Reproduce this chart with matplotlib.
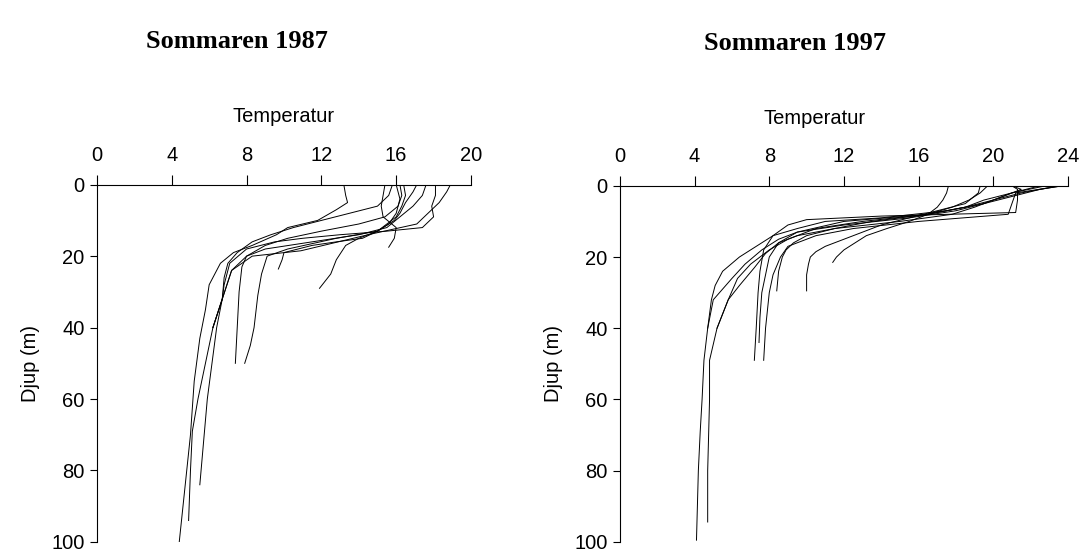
#!/usr/bin/env python
# -*- coding: utf-8 -*-

import matplotlib
matplotlib.use('Agg')
import matplotlib.pyplot as plt

# temperature profiles, (depth in m, temperature in C)
# summer 1987
depth_87_a = [0, 3, 5, 7, 10, 12, 14, 17, 19, 22, 28, 35, 43, 55, 70, 85, 100]
temp_87_a = [13.2, 13.3, 13.4, 12.8, 11.8, 10.2, 9.6, 8.3, 7.3, 6.6, 6.0, 5.8, 5.5, 5.2, 5.0, 4.7, 4.4]
depth_87_b = [0, 2, 5, 8, 11, 14, 18.5, 20, 24, 32, 40, 48, 60, 72, 84]
temp_87_b = [18.9, 18.7, 18.3, 17.7, 17.1, 14.5, 10.9, 8.3, 7.2, 6.7, 6.4, 6.2, 5.9, 5.7, 5.5]
depth_87_c = [0, 3, 6, 9, 11, 13, 15, 17, 20, 24, 32, 40, 50, 60, 69, 80, 94]
temp_87_c = [16.2, 16.3, 16.1, 15.4, 14.0, 12.0, 10.2, 9.0, 8.0, 7.2, 6.7, 6.2, 5.8, 5.4, 5.1, 5.0, 4.9]
depth_87_d = [0, 3, 6, 9, 12, 14, 16, 18, 20, 23, 30, 40, 50]
temp_87_d = [17.6, 17.4, 16.9, 16.2, 15.5, 14.0, 11.5, 9.0, 8.0, 7.75, 7.6, 7.5, 7.4]
depth_87_e = [0, 2, 5, 8, 10, 13, 15, 18, 20, 25, 31, 40, 45, 50]
temp_87_e = [17.1, 16.9, 16.5, 16.2, 15.9, 15.0, 12.8, 10.2, 9.1, 8.8, 8.6, 8.4, 8.2, 7.9]
depth_87_f = [0, 4, 8, 11, 13, 15, 17, 21, 25, 29]
temp_87_f = [16.0, 16.2, 16.0, 15.6, 15.0, 14.0, 13.3, 12.8, 12.5, 11.9]
depth_87_g = [0, 3, 6, 9, 12, 15, 17.5]
temp_87_g = [15.4, 15.3, 15.2, 15.3, 16.0, 15.9, 15.6]
depth_87_h = [0, 3, 6, 9, 11, 13, 15, 16, 17, 19, 21, 23.6]
temp_87_h = [16.4, 16.5, 16.3, 16.0, 15.5, 15.0, 14.2, 12.8, 11.5, 10.0, 9.9, 9.7]
depth_87_i = [0, 3, 6, 9, 12, 13, 14, 15, 16, 18, 22, 28, 32, 40]
temp_87_i = [18.1, 18.1, 17.9, 18.0, 17.4, 15.5, 13.0, 11.0, 9.5, 8.0, 7.1, 6.8, 6.7, 6.2]
depth_87_j = [0, 3, 6, 8, 10, 12, 14, 16, 19, 22, 26, 32, 40]
temp_87_j = [15.8, 15.6, 15.0, 13.5, 12.0, 10.5, 9.3, 8.3, 7.5, 7.0, 6.8, 6.7, 6.2]

# summer 1997
depth_97_a = [0, 1, 3, 5, 7, 9, 10, 12, 14, 17, 20, 24, 28, 32, 40, 49, 60, 69, 80, 99.5]
temp_97_a = [23.7, 22.5, 21.0, 19.5, 17.5, 14.0, 11.0, 9.5, 8.2, 7.3, 6.4, 5.5, 5.1, 4.9, 4.7, 4.5, 4.4, 4.3, 4.2, 4.1]
depth_97_b = [0, 2, 4, 6, 8, 10, 12, 15, 18, 22, 26, 32, 40, 49, 60, 70, 80, 94.4]
temp_97_b = [23.5, 21.5, 20.0, 18.5, 16.5, 13.0, 10.5, 9.0, 8.0, 7.0, 6.3, 5.8, 5.2, 4.8, 4.8, 4.75, 4.7, 4.7]
depth_97_c = [0, 1, 4, 7.5, 8.5, 9.5, 11, 14, 18, 24, 30, 40, 49]
temp_97_c = [21.0, 21.3, 21.3, 21.2, 14.0, 10.0, 9.0, 8.2, 7.7, 7.5, 7.4, 7.3, 7.2]
depth_97_d = [0, 2, 4, 6, 8, 10, 13, 16, 20, 25, 30, 37, 44]
temp_97_d = [22.5, 21.0, 19.5, 18.5, 16.5, 12.0, 9.5, 8.5, 8.0, 7.8, 7.6, 7.5, 7.45]
depth_97_e = [0, 2, 5, 8, 10, 12, 14, 17, 20, 25, 30, 35, 40, 49]
temp_97_e = [23.7, 21.2, 21.0, 20.8, 16.0, 12.5, 10.5, 9.0, 8.6, 8.2, 8.0, 7.9, 7.8, 7.7]
depth_97_f = [0, 2, 4, 6, 8, 10, 12, 14, 16, 18, 20, 24, 29.5]
temp_97_f = [19.7, 19.3, 18.7, 17.8, 16.5, 13.5, 11.5, 10.0, 9.3, 8.9, 8.7, 8.5, 8.4]
depth_97_g = [0, 2, 5, 7, 9, 11, 13, 15, 17, 18.5, 20, 22, 25, 29.5]
temp_97_g = [19.3, 19.2, 18.5, 17.0, 15.5, 14.0, 13.0, 12.0, 11.0, 10.5, 10.2, 10.1, 10.0, 10.0]
depth_97_h = [0, 2, 4, 6, 8, 10, 12, 14, 16, 18, 20, 21.5]
temp_97_h = [17.6, 17.5, 17.3, 17.0, 16.5, 15.5, 14.3, 13.2, 12.6, 12.0, 11.6, 11.4]
depth_97_i = [0, 1, 3, 5, 7, 9, 11, 13, 15, 18, 22, 26, 32, 40]
temp_97_i = [21.0, 21.5, 20.5, 19.5, 18.0, 15.5, 12.0, 9.5, 8.5, 7.6, 6.7, 6.0, 5.0, 4.7]
depth_97_j = [0, 2, 4, 6, 8, 10, 12, 14, 16, 19, 23, 28, 32, 40]
temp_97_j = [22.8, 21.0, 20.0, 19.0, 17.8, 15.0, 11.5, 9.5, 8.5, 7.8, 7.2, 6.4, 5.8, 5.2]

profiles_87 = [
    (depth_87_a, temp_87_a), (depth_87_b, temp_87_b), (depth_87_c, temp_87_c),
    (depth_87_d, temp_87_d), (depth_87_e, temp_87_e), (depth_87_f, temp_87_f),
    (depth_87_g, temp_87_g), (depth_87_h, temp_87_h), (depth_87_i, temp_87_i),
    (depth_87_j, temp_87_j),
]
profiles_97 = [
    (depth_97_a, temp_97_a), (depth_97_b, temp_97_b), (depth_97_c, temp_97_c),
    (depth_97_d, temp_97_d), (depth_97_e, temp_97_e), (depth_97_f, temp_97_f),
    (depth_97_g, temp_97_g), (depth_97_h, temp_97_h), (depth_97_i, temp_97_i),
    (depth_97_j, temp_97_j),
]

xticks_87 = [0, 4, 8, 12, 16, 20]
xticks_97 = [0, 4, 8, 12, 16, 20, 24]
yticks = [0, 20, 40, 60, 80, 100]

SANS = ['Liberation Sans', 'DejaVu Sans']
SERIF = ['Liberation Serif', 'DejaVu Serif']


def plot_profiles(ax, profiles, xticks, title, xlabel_x, title_x):
    for depth, temp in profiles:
        ax.plot(temp, depth, color = 'k', lw = 0.7)

    ax.set_xlim(xticks[0], xticks[-1])
    ax.set_ylim(100, 0)
    ax.set_xticks(xticks)
    ax.set_yticks(yticks)

    # only the top and left axis lines, ticks pointing out
    ax.spines['right'].set_visible(False)
    ax.spines['bottom'].set_visible(False)
    ax.spines['top'].set_linewidth(0.8)
    ax.spines['left'].set_linewidth(0.8)
    ax.xaxis.set_ticks_position('top')
    ax.xaxis.set_label_position('top')
    ax.tick_params(direction = 'out', length = 5, width = 0.8, labelsize = 14.5, pad = 4)
    ax.tick_params(axis = 'x', length = 7, pad = 7)
    for lab in ax.get_xticklabels() + ax.get_yticklabels():
        lab.set_family(SANS)

    ax.set_xlabel('Temperatur', family = SANS, fontsize = 14.5)
    ax.xaxis.set_label_coords(xlabel_x, 1.19)
    ax.xaxis.label.set_va('center')
    ax.set_ylabel('Djup (m)', family = SANS, fontsize = 14.5)
    ax.yaxis.set_label_coords(-0.152 * 374 / (ax.get_position().width * 1081), 0.5)

    ax.text(title_x, 1.40, title, transform = ax.transAxes, family = SERIF,
            fontweight = 'bold', fontsize = 19, ha = 'center', va = 'center')


def main():
    fig = plt.figure(figsize = (10.81, 5.53), dpi = 100)
    ax1 = fig.add_axes([0.0897, 0.02, 0.346, 0.646])
    ax2 = fig.add_axes([0.5735, 0.02, 0.4144, 0.644])

    plot_profiles(ax1, profiles_87, xticks_87, 'Sommaren 1987', 0.5, 0.374)
    plot_profiles(ax2, profiles_97, xticks_97, 'Sommaren 1997', 0.435, 0.39)

    fig.savefig('out.png', dpi = 100)


if __name__ == '__main__':
    main()
